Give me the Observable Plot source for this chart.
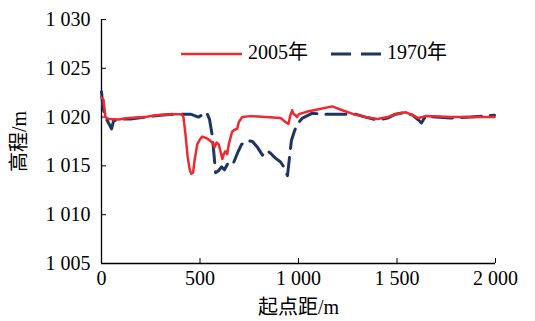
<!DOCTYPE html>
<html><head><meta charset="utf-8">
<script src="https://cdn.jsdelivr.net/npm/d3@7"></script>
<script src="https://cdn.jsdelivr.net/npm/@observablehq/plot@0.6"></script>
<style>
body{margin:0;background:#fff;}
#wrap{position:relative;width:535px;height:321px;font-family:"Liberation Serif","Noto Sans CJK SC",serif;}
.lt{position:absolute;font-size:20px;line-height:20px;color:#000;white-space:nowrap;}
.sw{position:absolute;}
</style></head><body><div id="wrap"></div>
<script>
// Series: 2005
const dist2005 = [0,10,20,36,86,137,223,274,365,406,416,426,437,447,455,465,472,486,499,511,528,545,562,574,584,595,604,613,621,629,638,646,655,663,675,689,697,714,756,832,909,934,949,959,968,975,985,993,1002,1051,1102,1171,1223,1279,1340,1401,1452,1492,1543,1579,1609,1645,1772,1873,1995];
const elev2005 = [1022.0,1021.8,1020.0,1019.8,1019.75,1019.9,1020.0,1020.2,1020.3,1020.3,1020.0,1018.3,1016.0,1014.7,1014.2,1014.3,1015.5,1017.2,1017.7,1018.0,1017.9,1017.7,1017.4,1016.9,1017.4,1017.2,1016.5,1015.7,1016.2,1016.5,1016.2,1017.2,1017.9,1018.5,1018.7,1018.8,1019.5,1020.0,1020.1,1020.0,1019.9,1019.5,1019.3,1020.2,1020.7,1020.3,1020.2,1020.0,1020.3,1020.6,1020.8,1021.1,1020.7,1020.3,1020.0,1019.8,1020.0,1020.3,1020.5,1020.2,1019.9,1020.1,1020.0,1020.0,1020.0];
// Series: 1970
const dist1970 = [0,7,20,46,51,61,86,147,223,300,376,452,492,518,533,548,563,574,579,594,609,624,640,655,670,690,711,736,766,792,817,838,858,883,909,929,944,954,964,980,995,1020,1071,1122,1188,1239,1289,1340,1401,1452,1492,1543,1579,1609,1624,1645,1695,1772,1873,1995];
const elev1970 = [1022.6,1021.0,1020.0,1019.0,1018.8,1019.6,1019.8,1019.8,1020.0,1020.2,1020.3,1020.3,1020.0,1020.3,1020.5,1019.8,1018.0,1015.5,1014.3,1014.5,1014.9,1014.6,1015.2,1015.0,1015.3,1016.3,1017.2,1017.6,1017.5,1016.9,1016.1,1016.6,1016.3,1015.8,1015.4,1014.8,1014.0,1015.8,1017.6,1018.6,1019.3,1019.9,1020.4,1020.3,1020.3,1020.3,1020.3,1020.0,1019.7,1019.9,1020.3,1020.5,1020.2,1019.7,1019.4,1020.1,1020.0,1019.9,1020.0,1020.2];

const xTickValues = [0,500,1000,1500,2000];
const xTickLabels = ["0","500","1 000","1 500","2 000"];
const yTickValues = [1005,1010,1015,1020,1025,1030];
const yTickLabels = ["1 005","1 010","1 015","1 020","1 025","1 030"];
const seriesNames = ["2005年","1970年"];
const seriesColors = ["#ee2a2e","#1e3461"];
const xTitle = "起点距/m";
const yTitle = "高程/m";

const d2005 = dist2005.map((d,i)=>({x:d,y:elev2005[i]}));
const d1970 = dist1970.map((d,i)=>({x:d,y:elev1970[i]}));

const chart = Plot.plot({
  width:535, height:321,
  marginLeft:101, marginRight:40, marginTop:19, marginBottom:58,
  style:{fontFamily:'"Liberation Serif","Noto Sans CJK SC",serif', fontSize:"20px", color:"#000", background:"#fff"},
  x:{domain:[0,2000]},
  y:{domain:[1005,1030]},
  marks:[
    Plot.axisX({ticks:xTickValues, tickFormat:d=>xTickLabels[xTickValues.indexOf(d)], tickSize:-5, tickPadding:12, label:null, fontSize:20}),
    Plot.axisX({ticks:[], label:xTitle, labelAnchor:"center", labelArrow:"none", labelOffset:50, fontSize:20, dx:-7}),
    Plot.axisY({ticks:yTickValues, tickFormat:d=>yTickLabels[yTickValues.indexOf(d)], tickSize:-5, tickPadding:16, label:yTitle, labelAnchor:"center", labelArrow:"none", labelOffset:90, fontSize:20}),
    Plot.ruleX([0],{stroke:"#000", strokeWidth:1.3}),
    Plot.ruleY([1005],{stroke:"#000", strokeWidth:1.3}),
    Plot.line(d1970,{x:"x",y:"y",stroke:seriesColors[1],strokeWidth:3,strokeDasharray:"20,9",curve:"linear"}),
    Plot.line(d2005,{x:"x",y:"y",stroke:seriesColors[0],strokeWidth:2.5,curve:"linear"})
  ]
});
const wrap = document.getElementById("wrap");
wrap.appendChild(chart);

// Legend overlay
function addSw(left, top, color, dash){
  const s = document.createElementNS("http://www.w3.org/2000/svg","svg");
  s.setAttribute("width", 62); s.setAttribute("height", 6);
  s.setAttribute("class","sw"); s.style.left = left+"px"; s.style.top = top+"px";
  const l = document.createElementNS("http://www.w3.org/2000/svg","line");
  l.setAttribute("x1",0); l.setAttribute("x2", dash ? 50 : 61); l.setAttribute("y1",3); l.setAttribute("y2",3);
  l.setAttribute("stroke", color); l.setAttribute("stroke-width", dash ? 3 : 2.5);
  if (dash) l.setAttribute("stroke-dasharray", "20,10");
  s.appendChild(l); wrap.appendChild(s);
}
function addTxt(left, top, txt){
  const d = document.createElement("div"); d.className="lt"; d.style.left=left+"px"; d.style.top=top+"px"; d.textContent=txt; wrap.appendChild(d);
}
addSw(181, 51, seriesColors[0], false);
addTxt(248, 42, seriesNames[0]);
addSw(331, 51, seriesColors[1], true);
addTxt(387, 42, seriesNames[1]);
</script>
</body></html>
